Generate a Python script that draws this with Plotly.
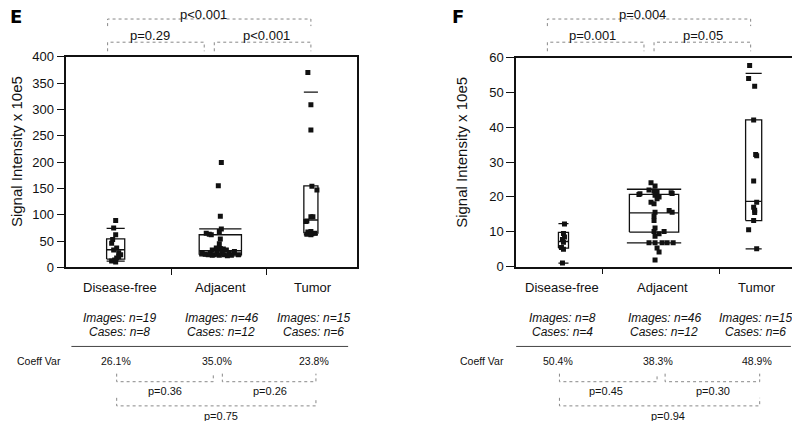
import plotly.graph_objects as go

W, H = 800, 421
FONT = "Liberation Sans, Arial, Helvetica, sans-serif"

categories = ["Disease-free", "Adjacent", "Tumor"]
y_title = "Signal Intensity x 10e5"

# ---------------- Panel E data ----------------
e_vals = [
    [89, 75, 62, 53, 46, 37, 33, 28, 24, 20, 18, 14, 12, 10],
    [199, 155, 97, 73, 68, 65, 63, 62, 54, 45, 37, 36, 35, 33, 33, 30,
     27, 27, 27, 27, 27, 24, 24, 23, 24, 23, 24, 25, 22, 23],
    [370, 309, 261, 154, 147, 96, 96, 88, 87, 68, 67, 64, 65, 63, 62],
]
e_jit = [
    [0, -2, 0, -3, -4, 1, -2, 3, 5, 3, 1, -1, -4, 0],
    [1, -2, 0, 1, -1, -14, -11, -9, 0, -1, -4, 0, 3, -8, 6, 14,
     -10, -3, 2, 9, -18, -12, -6, -1, 4, 11, 18, -15, 7, -8],
    [-3, 0, 0, 1, 6, 0, 2, -4, -5, 0, -3, 1, 4, -4, 0],
]
e_q1 = [15.7, 24, 65]
e_med = [33.5, 31.6, 90]
e_q3 = [54, 62, 155]
e_hi = [74, 73, 333]
e_lo = [12, 22, 62]
e_ticks = [0, 50, 100, 150, 200, 250, 300, 350, 400]
e_imgs = ["Images: n=19", "Images: n=46", "Images: n=15"]
e_cases = ["Cases: n=8", "Cases: n=12", "Cases: n=6"]
e_cv = ["26.1%", "35.0%", "23.8%"]
e_p_top = ["p=0.29", "p<0.001", "p<0.001"]
e_p_bot = ["p=0.36", "p=0.26", "p=0.75"]

# ---------------- Panel F data ----------------
f_vals = [
    [12.2, 9.5, 8.5, 7.8, 7.0, 5.5, 5.0, 1.0],
    [24.1, 23.1, 22, 21.7, 21.5, 20.9, 21.2, 20.5, 20, 19.5, 18.5, 18,
     16.1, 15.6, 15.6, 14.5, 13.2, 11.1, 10.1, 9.4, 10.1, 8.7,
     6.8, 6.8, 6.8, 6.8, 6.8, 5.3, 4.2, 1.9, 20.7, 21],
    [57.7, 54, 51.8, 42.1, 32.2, 31.8, 24.6, 18.5, 17, 16.2, 15.5, 13.2, 10.6, 5.1],
]
f_jit = [
    [1, 0, 1, -1, 0, -2, 0, -1],
    [-3, 1, -5, 0, 3, -14, 17, 1, 5, 3, -3, 0,
     15, 18, 1, 0, 0, 1, 10, 5, 0, 1,
     -5, 1, 8, 13, 19, 3, 5, 1, -15, 18],
    [-4, -5, 1, 0, 2, 3, 0, 3, 0, 1, 1, 0, -5, 3],
]
f_q1 = [5.3, 9.9, 13.2]
f_med = [7.2, 15.4, 18.7]
f_q3 = [9.8, 20.7, 42.1]
f_hi = [12.3, 22.2, 55.5]
f_lo = [1.0, 6.8, 5.1]
f_ticks = [0, 10, 20, 30, 40, 50, 60]
f_imgs = ["Images: n=8", "Images: n=46", "Images: n=15"]
f_cases = ["Cases: n=4", "Cases: n=12", "Cases: n=6"]
f_cv = ["50.4%", "38.3%", "48.9%"]
f_p_top = ["p=0.001", "p=0.05", "p=0.004"]
f_p_bot = ["p=0.45", "p=0.30", "p=0.94"]

# ---------------- layout geometry (target screen pixels) ----------------
panels = [
    dict(name="E", x0=68, x1=357, ytop=58.5, ybot=267.5, yrange=[0, 400],
         centers=[117, 221, 311], half=[9, 21, 7], caphalf=[9, 21, 7],
         xticks=[172, 267], vals=e_vals, jit=e_jit, q1=e_q1, med=e_med, q3=e_q3,
         hi=e_hi, lo=e_lo, ticks=e_ticks, title_x=18, letter_x=18,
         lab_x=[121, 221, 313], n_x=[121, 222, 314], hline=[73, 348],
         cv_lab_x=41, cv_x=[117, 218, 314],
         ptop=[(109, 205, 151), (215, 311, 267), (109, 311, 204)],
         pbot=[(118, 214, 166), (223, 316, 270), (118, 316, 222)],
         imgs=e_imgs, cases=e_cases, cv=e_cv, p_top=e_p_top, p_bot=e_p_bot),
    dict(name="F", x0=515, x1=799, ytop=59.3, ybot=266.7, yrange=[0, 60],
         centers=[562, 652, 751], half=[5, 24.5, 8], caphalf=[5, 27, 8],
         xticks=[601, 717], vals=f_vals, jit=f_jit, q1=f_q1, med=f_med, q3=f_q3,
         hi=f_hi, lo=f_lo, ticks=f_ticks, title_x=460, letter_x=457,
         lab_x=[561, 660, 754], n_x=[561, 662, 753], hline=[515, 788],
         cv_lab_x=481, cv_x=[557, 656, 754],
         ptop=[(546, 642, 591), (652, 748, 701), (546, 748, 641)],
         pbot=[(558, 655, 604), (663, 757, 711), (558, 757, 666)],
         imgs=f_imgs, cases=f_cases, cv=f_cv, p_top=f_p_top, p_bot=f_p_bot),
]

# the page shows the figure area from screen (10, 17) with size 795 x 403
OX, OY, SW, SH = 10.0, 17.0, 795.0, 403.0

fig = go.Figure()
shapes = []
annotations = []


def px(x):
    return (x - OX) / SW


def py(y):
    return 1 - (y - OY) / SH


def note(x, y, text, size, angle=0, family=FONT, color="#111"):
    annotations.append(dict(x=px(x), y=py(y), xref="paper", yref="paper",
                            xanchor="center", yanchor="middle",
                            text=text, textangle=angle, showarrow=False,
                            font=dict(family=family, size=size, color=color)))


for i, p in enumerate(panels):
    xa = "x" if i == 0 else "x2"
    ya = "y" if i == 0 else "y2"
    pxu = (p["x1"] - p["x0"]) / 3.0  # pixels per category unit, range [-0.5, 2.5]

    def tod(xpix, p=p, pxu=pxu):
        return (xpix - p["x0"]) / pxu - 0.5

    for g in range(3):
        c = p["centers"][g]
        h = p["half"][g]
        ch = p["caphalf"][g]
        xl, xr = tod(c - h), tod(c + h)
        fig.add_trace(go.Scatter(
            x=[xl, xr, xr, xl, xl],
            y=[p["q1"][g], p["q1"][g], p["q3"][g], p["q3"][g], p["q1"][g]],
            mode="lines", line=dict(color="#111", width=1.3),
            xaxis=xa, yaxis=ya, showlegend=False, hoverinfo="skip"))
        for val, hw in ((p["med"][g], h), (p["hi"][g], ch), (p["lo"][g], ch)):
            fig.add_trace(go.Scatter(
                x=[tod(c - hw), tod(c + hw)], y=[val, val],
                mode="lines", line=dict(color="#111", width=1.3),
                xaxis=xa, yaxis=ya, showlegend=False, hoverinfo="skip"))
        fig.add_trace(go.Scatter(
            x=[tod(c + d) for d in p["jit"][g]], y=p["vals"][g],
            mode="markers",
            marker=dict(symbol="square", size=5, color="#111", line=dict(width=0)),
            xaxis=xa, yaxis=ya, showlegend=False, name=categories[g]))

    axis_common = dict(showline=True, linecolor="#111", linewidth=1.5, mirror=True,
                       showgrid=False, zeroline=False, ticks="outside",
                       tickcolor="#111", tickwidth=1.3)
    xdict = dict(axis_common, domain=[px(p["x0"]), min(px(p["x1"]), 1.0)], range=[-0.5, 2.5],
                 tickvals=[tod(t) for t in p["xticks"]], showticklabels=False,
                 ticklen=6, anchor=ya)
    ydict = dict(axis_common, domain=[py(p["ybot"]), py(p["ytop"])], range=p["yrange"],
                 tickvals=p["ticks"], ticklen=8,
                 tickfont=dict(family=FONT, size=13, color="#111"), anchor=xa)
    if i == 0:
        fig.update_layout(xaxis=xdict, yaxis=ydict)
    else:
        fig.update_layout(xaxis2=xdict, yaxis2=ydict)

    note(p["title_x"], 153, y_title, 15, angle=-90)
    note(p["letter_x"], 18, "<b>%s</b>" % p["name"], 18,
         family="DejaVu Sans, " + FONT, color="#000")
    for g in range(3):
        note(p["lab_x"][g], 287, categories[g], 13)
        note(p["n_x"][g], 318, "<i>%s</i>" % p["imgs"][g], 12)
        note(p["n_x"][g], 332, "<i>%s</i>" % p["cases"][g], 12)
        note(p["cv_x"][g], 360, p["cv"][g], 10.5)
    note(p["cv_lab_x"], 360, "Coeff Var", 10.5)
    shapes.append(dict(type="line", xref="paper", yref="paper",
                       x0=px(p["hline"][0]), x1=px(p["hline"][1]),
                       y0=py(346), y1=py(346), line=dict(color="#444", width=1)))
    tops = [(p["ptop"][0], 44, 53, 37), (p["ptop"][1], 44, 53, 37), (p["ptop"][2], 21, 28, 16.5)]
    for k, ((a, b, mid), yl, yt, ytxt) in enumerate(tops):
        path = "M %f,%f L %f,%f L %f,%f L %f,%f" % (px(a), py(yt), px(a), py(yl),
                                                    px(b), py(yl), px(b), py(yt))
        shapes.append(dict(type="path", xref="paper", yref="paper", path=path,
                           line=dict(color="#888", width=1, dash="dot")))
        note(mid, ytxt, p["p_top"][k], 13)
    bots = [(p["pbot"][0], 381, 373, 390), (p["pbot"][1], 381, 373, 390),
            (p["pbot"][2], 405, 397, 415)]
    for k, ((a, b, mid), yl, yt, ytxt) in enumerate(bots):
        path = "M %f,%f L %f,%f L %f,%f L %f,%f" % (px(a), py(yt), px(a), py(yl),
                                                    px(b), py(yl), px(b), py(yt))
        shapes.append(dict(type="path", xref="paper", yref="paper", path=path,
                           line=dict(color="#888", width=1, dash="dot")))
        note(mid, ytxt, p["p_bot"][k], 11)

fig.update_layout(
    width=W, height=H, autosize=False,
    margin=dict(l=0, r=0, t=0, b=0),
    paper_bgcolor="white", plot_bgcolor="white",
    shapes=shapes, annotations=annotations,
    font=dict(family=FONT, color="#111"),
    showlegend=False,
)

fig.write_html("out.html")
